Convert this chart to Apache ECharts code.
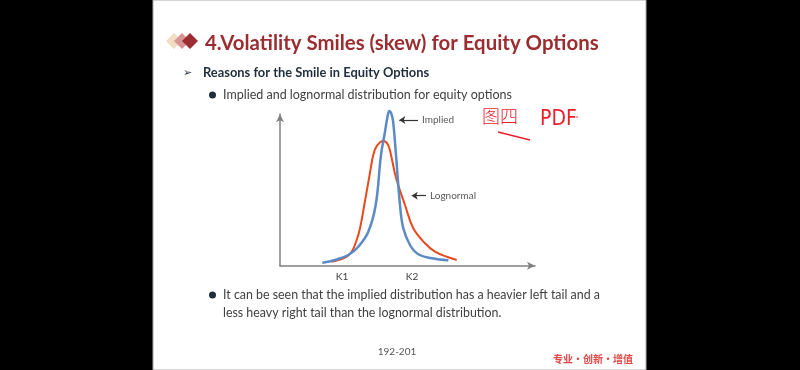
<!DOCTYPE html>
<html>
<head>
<meta charset="utf-8">
<script src="https://cdn.jsdelivr.net/npm/echarts@6/dist/echarts.min.js"></script>
<style>
html,body{margin:0;padding:0;background:#000;}
#chart{width:800px;height:370px;}
</style>
</head>
<body>
<div id="chart"></div>
<script>
// ---- data (x: strike axis units, y: density units) ----
const impliedPDF = [
  [42.3,3],[55,5.7],[68.3,10.7],[78.3,19],[88.3,34],[95.7,60.7],[101,110.7],[105,134],
  [107.5,149],[109.3,154.7],[111,153],[113,145],[116,110.7],[120,60.7],[123.3,37.4],
  [130,20.7],[138.3,11.4],[151.7,7.4],[168.3,5.4]
];
const lognormalPDF = [
  [51.7,4],[65,8],[71.7,14],[76.7,25.7],[80,37.4],[84.3,60.7],[90,93],[93.3,110.7],[97,120],
  [103.3,124.7],[108,121],[111,110.7],[116,88],[125,60.7],[133.3,37.4],[145,22.4],
  [155,14],[168.3,8.4],[176.7,5.7]
];
const strikeTicks = [62, 132];
const strikeLabels = ['K1', 'K2'];
const seriesNames = ['Implied', 'Lognormal'];
const impliedNote = [[119.3,145.7],[138,145.7]];
const lognormalNote = [[131.7,70],[146,70]];

const chart = echarts.init(document.getElementById('chart'));
const axisColor = '#808080';
const txt = (x, y, text, style) => ({type:'text', x, y, style:Object.assign({text, fill:'#333', font:'13px Lato', textVerticalAlign:'middle'}, style)});

function noteLine(pts, label){
  return {
    silent:true, symbol:['arrow','none'], symbolSize:6,
    lineStyle:{color:'#333', width:1.2, type:'solid'},
    label:{show:true, position:'end', formatter:label, color:'#595959', fontSize:10, fontFamily:'Lato', distance:4},
    data:[[{coord:pts[0]},{coord:pts[1]}]]
  };
}

chart.setOption({
  backgroundColor:'#000',
  animation:false,
  graphic:[
    {type:'rect', shape:{x:153,y:0,width:493,height:370}, style:{fill:'#fff', stroke:'#aaa', lineWidth:1}, z:-10},
    // title diamonds
    {type:'polygon', shape:{points:[[174,33],[182,41],[174,49],[166,41]]}, style:{fill:'#F3DCC2'}},
    {type:'polygon', shape:{points:[[182,33],[190,41],[182,49],[174,41]]}, style:{fill:'#D89494'}},
    {type:'polygon', shape:{points:[[190,33],[198,41],[190,49],[182,41]]}, style:{fill:'#9B2D30'}},
    txt(205, 43, '4.Volatility Smiles (skew) for Equity Options', {fill:'#9B2D30', font:'bold 20.4px Lato'}),
    txt(183, 73, '➢', {fill:'#1F2D3D', font:'11px "DejaVu Sans"'}),
    txt(203, 73, 'Reasons for the Smile in Equity Options', {fill:'#1F2D3D', font:'bold 12.9px Lato'}),
    {type:'circle', shape:{cx:212.5, cy:95, r:3.5}, style:{fill:'#1F2D3D'}},
    txt(223, 95, 'Implied and lognormal distribution for equity options', {fill:'#404040', font:'12.5px Lato'}),
    {type:'circle', shape:{cx:212.5, cy:295, r:3.5}, style:{fill:'#1F2D3D'}},
    txt(223, 295, 'It can be seen that the implied distribution has a heavier left tail and a', {fill:'#404040', font:'12.4px Lato'}),
    txt(223, 313, 'less heavy right tail than the lognormal distribution.', {fill:'#404040', font:'12.4px Lato'}),
    txt(397, 352, '192-201', {fill:'#555', font:'10px Lato', textAlign:'center'}),
    txt(553, 359, '专业·创新·增值', {fill:'#E04848', font:'bold 10px "Noto Sans CJK SC"'}),
    // handwritten notes
    txt(482, 116, '图四', {fill:'#E8202A', font:'300 18px "Noto Sans CJK SC"'}),
    txt(540, 120, 'PDF', {fill:'#E8202A', font:'300 21px "Liberation Sans Narrow", "DejaVu Sans Condensed", sans-serif'}),
    {type:'circle', shape:{cx:577, cy:117, r:0.8}, style:{fill:'#E8202A'}},
    {type:'line', shape:{x1:498,y1:132,x2:530,y2:140}, style:{stroke:'#E8202A', lineWidth:1.3}}
  ],
  grid:{left:280, right:265, top:114.3, bottom:104.3, containLabel:false},
  xAxis:{
    type:'value', min:0, max:255,
    axisLine:{show:true, symbol:['none','arrow'], symbolSize:[6,8], lineStyle:{color:axisColor, width:1.5}},
    axisTick:{show:false}, splitLine:{show:false},
    axisLabel:{customValues:strikeTicks, margin:6, color:'#404040', fontSize:10, fontFamily:'Lato',
      formatter:(v)=>{const i=strikeTicks.indexOf(v); return i>=0?strikeLabels[i]:'';}}
  },
  yAxis:{
    type:'value', min:0, max:151.4,
    axisLine:{show:true, symbol:['none','arrow'], symbolSize:[6,8], lineStyle:{color:axisColor, width:1.5}},
    axisTick:{show:false}, splitLine:{show:false}, axisLabel:{show:false}
  },
  series:[
    {name:seriesNames[0], type:'line', data:impliedPDF, smooth:0.4, showSymbol:false, clip:false,
      lineStyle:{color:'#5B8AC4', width:2.5}, z:3, markLine:noteLine(impliedNote, seriesNames[0])},
    {name:seriesNames[1], type:'line', data:lognormalPDF, smooth:0.4, showSymbol:false, clip:false,
      lineStyle:{color:'#E8491D', width:2}, z:2, markLine:noteLine(lognormalNote, seriesNames[1])}
  ]
});
</script>
</body>
</html>
